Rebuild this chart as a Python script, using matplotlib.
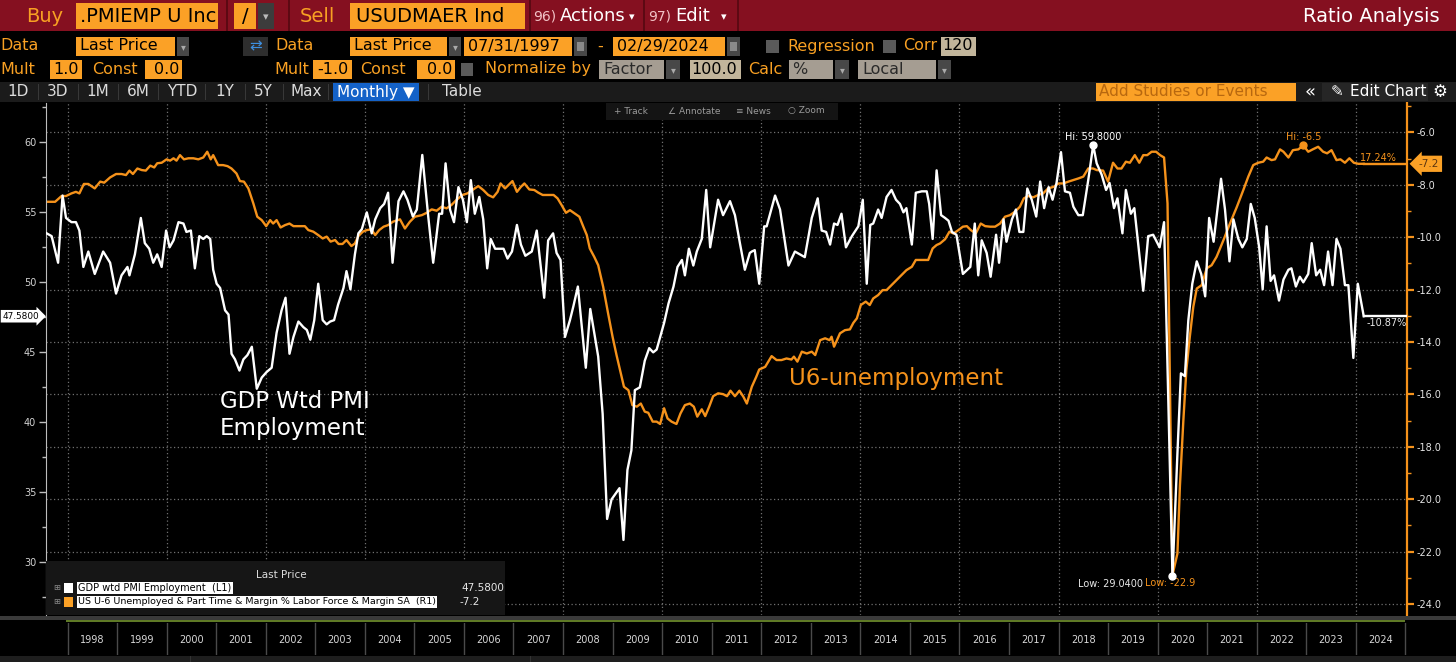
import matplotlib
matplotlib.use('Agg')
import matplotlib.pyplot as plt
from matplotlib.patches import Rectangle
from matplotlib.transforms import blended_transform_factory as blend

plt.rcParams['axes.unicode_minus'] = False
plt.rcParams['font.family'] = ['DejaVu Sans']

# ------------------------------------------------------------------ data
# GDP weighted PMI Employment (left axis)
pmi_dates = [1997.58, 1997.68, 1997.81, 1997.90, 1997.97, 1998.08, 1998.17, 1998.24, 1998.32, 1998.42,
             1998.55, 1998.72, 1998.86, 1998.98, 1999.09, 1999.21, 1999.25, 1999.36, 1999.48, 1999.56,
             1999.65, 1999.73, 1999.81, 1999.90, 1999.99, 2000.06, 2000.14, 2000.24, 2000.34, 2000.40,
             2000.49, 2000.57, 2000.66, 2000.74, 2000.81, 2000.88, 2000.94, 2001.01, 2001.08, 2001.18,
             2001.25, 2001.31, 2001.38, 2001.47, 2001.55, 2001.63, 2001.72, 2001.82, 2001.92, 2002.02,
             2002.12, 2002.22, 2002.32, 2002.40, 2002.48, 2002.56, 2002.66, 2002.76, 2002.83, 2002.90,
             2002.98, 2003.06, 2003.15, 2003.23, 2003.30, 2003.38, 2003.46, 2003.57, 2003.63, 2003.71,
             2003.80, 2003.87, 2003.94, 2004.04, 2004.14, 2004.21, 2004.31, 2004.39, 2004.47, 2004.56,
             2004.68, 2004.78, 2004.86, 2004.97, 2005.05, 2005.16, 2005.28, 2005.38, 2005.50, 2005.56,
             2005.63, 2005.72, 2005.80, 2005.89, 2005.98, 2006.06, 2006.14, 2006.22, 2006.31, 2006.39,
             2006.47, 2006.54, 2006.63, 2006.80, 2006.88, 2006.97, 2007.07, 2007.15, 2007.24, 2007.37,
             2007.47, 2007.62, 2007.70, 2007.80, 2007.87, 2007.95, 2008.04, 2008.14, 2008.21, 2008.30,
             2008.38, 2008.46, 2008.55, 2008.63, 2008.71, 2008.80, 2008.89, 2008.98, 2009.14, 2009.22,
             2009.30, 2009.38, 2009.45, 2009.55, 2009.65, 2009.74, 2009.82, 2009.89, 2009.96, 2010.04,
             2010.13, 2010.23, 2010.31, 2010.40, 2010.46, 2010.54, 2010.63, 2010.70, 2010.80, 2010.89,
             2010.97, 2011.13, 2011.23, 2011.37, 2011.47, 2011.57, 2011.67, 2011.77, 2011.81, 2011.87,
             2011.96, 2012.06, 2012.11, 2012.28, 2012.38, 2012.55, 2012.68, 2012.78, 2012.88, 2013.02,
             2013.14, 2013.22, 2013.31, 2013.39, 2013.47, 2013.54, 2013.62, 2013.71, 2013.83, 2013.96,
             2014.05, 2014.13, 2014.20, 2014.26, 2014.36, 2014.43, 2014.53, 2014.63, 2014.72, 2014.80,
             2014.87, 2014.93, 2015.04, 2015.12, 2015.24, 2015.34, 2015.39, 2015.46, 2015.54, 2015.63,
             2015.71, 2015.78, 2015.85, 2015.94, 2016.07, 2016.22, 2016.31, 2016.38, 2016.45, 2016.55,
             2016.63, 2016.74, 2016.80, 2016.89, 2016.95, 2017.06, 2017.14, 2017.21, 2017.29, 2017.37,
             2017.46, 2017.55, 2017.63, 2017.71, 2017.80, 2017.88, 2017.96, 2018.05, 2018.13, 2018.23,
             2018.30, 2018.40, 2018.49, 2018.60, 2018.70, 2018.77, 2018.87, 2018.96, 2019.03, 2019.12,
             2019.19, 2019.29, 2019.36, 2019.46, 2019.53, 2019.71, 2019.81, 2019.91, 2020.04, 2020.13,
             2020.30, 2020.40, 2020.47, 2020.55, 2020.62, 2020.70, 2020.79, 2020.88, 2020.96, 2021.04,
             2021.13, 2021.28, 2021.36, 2021.45, 2021.53, 2021.63, 2021.71, 2021.80, 2021.88, 2021.96,
             2022.05, 2022.12, 2022.20, 2022.28, 2022.35, 2022.45, 2022.54, 2022.64, 2022.70, 2022.79,
             2022.87, 2022.94, 2023.04, 2023.11, 2023.20, 2023.28, 2023.36, 2023.44, 2023.53, 2023.61,
             2023.69, 2023.78, 2023.85, 2023.95, 2024.04, 2024.16]
pmi_values = [53.5, 53.3, 51.4, 56.2, 54.6, 54.3, 54.3, 53.7, 51.1, 52.2,
              50.6, 52.2, 51.4, 49.2, 50.5, 51.1, 50.5, 52.0, 54.6, 52.8,
              52.4, 51.4, 52.0, 51.1, 53.7, 52.5, 53.0, 54.3, 54.2, 53.6,
              53.7, 51.0, 53.3, 53.1, 53.3, 53.1, 50.9, 49.9, 49.6, 48.0,
              47.7, 44.9, 44.5, 43.7, 44.5, 44.8, 45.4, 42.4, 43.2, 43.6,
              43.9, 46.4, 48.0, 48.9, 44.9, 46.1, 47.2, 46.8, 46.6, 45.9,
              47.3, 49.9, 47.3, 47.0, 47.2, 47.3, 48.4, 49.6, 50.8, 49.5,
              52.0, 53.5, 53.8, 55.0, 53.5, 54.5, 55.3, 55.6, 56.4, 51.4,
              55.8, 56.5, 55.9, 54.7, 55.2, 59.1, 54.7, 51.4, 54.9, 54.9,
              58.5, 55.2, 54.3, 56.8, 55.9, 54.3, 57.3, 54.9, 56.1, 54.5,
              51.0, 53.1, 52.4, 52.4, 51.7, 52.2, 54.1, 52.7, 51.9, 52.2,
              53.7, 48.9, 53.0, 53.5, 52.1, 51.6, 46.1, 47.3, 48.3, 49.7,
              46.8, 43.9, 48.1, 46.4, 44.7, 40.6, 33.1, 34.5, 35.3, 31.6,
              36.6, 38.0, 42.3, 42.5, 44.4, 45.3, 45.0, 45.2, 46.1, 47.1,
              48.5, 49.7, 51.1, 51.6, 50.5, 52.4, 51.2, 52.2, 53.1, 56.6,
              52.5, 55.9, 54.8, 55.8, 54.8, 52.8, 50.9, 52.1, 52.2, 52.3,
              49.9, 54.0, 54.0, 56.2, 55.2, 51.2, 52.2, 52.0, 51.8, 54.6,
              56.0, 53.7, 53.6, 52.7, 54.2, 54.1, 54.9, 52.5, 53.3, 54.0,
              55.9, 49.9, 54.1, 54.2, 55.2, 54.6, 56.1, 56.6, 55.9, 55.6,
              55.0, 55.3, 52.7, 56.4, 56.5, 56.5, 55.6, 53.1, 58.0, 54.8,
              54.6, 54.4, 53.6, 53.4, 50.6, 51.1, 54.2, 50.5, 53.0, 52.1,
              50.4, 53.4, 51.4, 54.5, 52.9, 54.5, 55.2, 53.6, 53.6, 56.7,
              55.9, 54.7, 57.2, 55.3, 56.8, 55.9, 57.1, 59.3, 56.5, 56.4,
              55.4, 54.8, 54.8, 57.3, 59.8, 58.5, 57.7, 56.6, 57.1, 55.3,
              56.0, 53.5, 56.6, 54.9, 55.3, 49.4, 53.3, 53.4, 52.5, 54.3,
              29.04, 37.8, 43.5, 43.3, 47.3, 49.9, 51.5, 50.6, 49.0, 54.6,
              52.9, 57.4, 55.2, 51.5, 54.5, 53.1, 52.5, 53.1, 55.6, 54.6,
              52.5, 49.5, 54.0, 50.1, 50.5, 48.7, 50.2, 50.9, 51.0, 49.7,
              50.4, 50.0, 50.6, 52.8, 50.5, 50.9, 49.8, 52.2, 49.8, 53.1,
              52.4, 49.8, 49.8, 44.6, 49.9, 47.58]

# US U-6 underemployment rate (%), plotted with Mult -1.0 on the right axis
u6_dates = [1997.58, 1997.75, 1997.88, 1997.97, 1998.08, 1998.17, 1998.24, 1998.33, 1998.42, 1998.55,
            1998.66, 1998.74, 1998.86, 1998.98, 1999.09, 1999.18, 1999.25, 1999.32, 1999.41, 1999.50,
            1999.58, 1999.67, 1999.75, 1999.81, 1999.90, 2000.00, 2000.07, 2000.14, 2000.20, 2000.27,
            2000.35, 2000.44, 2000.54, 2000.64, 2000.74, 2000.82, 2000.89, 2000.94, 2001.04, 2001.14,
            2001.23, 2001.31, 2001.41, 2001.48, 2001.56, 2001.65, 2001.75, 2001.83, 2001.92, 2002.01,
            2002.09, 2002.15, 2002.22, 2002.30, 2002.39, 2002.48, 2002.56, 2002.66, 2002.79, 2002.86,
            2002.96, 2003.06, 2003.15, 2003.23, 2003.31, 2003.40, 2003.47, 2003.55, 2003.63, 2003.73,
            2003.80, 2003.87, 2003.96, 2004.04, 2004.13, 2004.21, 2004.29, 2004.38, 2004.47, 2004.57,
            2004.71, 2004.81, 2004.91, 2005.01, 2005.15, 2005.25, 2005.35, 2005.45, 2005.55, 2005.65,
            2005.75, 2005.85, 2005.97, 2006.07, 2006.19, 2006.29, 2006.39, 2006.49, 2006.59, 2006.68,
            2006.74, 2006.83, 2006.90, 2006.98, 2007.07, 2007.15, 2007.22, 2007.32, 2007.42, 2007.50,
            2007.59, 2007.81, 2007.89, 2007.97, 2008.06, 2008.14, 2008.24, 2008.33, 2008.41, 2008.48,
            2008.54, 2008.63, 2008.71, 2008.81, 2008.91, 2009.00, 2009.08, 2009.16, 2009.23, 2009.32,
            2009.40, 2009.49, 2009.57, 2009.65, 2009.72, 2009.81, 2009.89, 2009.96, 2010.04, 2010.11,
            2010.19, 2010.29, 2010.37, 2010.46, 2010.56, 2010.64, 2010.71, 2010.80, 2010.87, 2010.95,
            2011.03, 2011.13, 2011.23, 2011.31, 2011.38, 2011.47, 2011.56, 2011.64, 2011.71, 2011.81,
            2011.90, 2011.96, 2012.08, 2012.21, 2012.31, 2012.41, 2012.51, 2012.61, 2012.66, 2012.73,
            2012.82, 2012.92, 2013.02, 2013.09, 2013.19, 2013.29, 2013.38, 2013.42, 2013.47, 2013.59,
            2013.69, 2013.79, 2013.86, 2013.93, 2014.01, 2014.11, 2014.19, 2014.26, 2014.36, 2014.45,
            2014.53, 2014.63, 2014.73, 2014.83, 2014.93, 2015.04, 2015.12, 2015.37, 2015.46, 2015.54,
            2015.61, 2015.71, 2015.80, 2015.88, 2015.98, 2016.07, 2016.15, 2016.23, 2016.33, 2016.43,
            2016.52, 2016.62, 2016.72, 2016.82, 2016.92, 2017.02, 2017.12, 2017.22, 2017.30, 2017.39,
            2017.49, 2017.59, 2017.69, 2017.79, 2017.90, 2018.00, 2018.10, 2018.20, 2018.30, 2018.40,
            2018.50, 2018.60, 2018.70, 2018.77, 2018.90, 2019.00, 2019.10, 2019.19, 2019.27, 2019.36,
            2019.44, 2019.54, 2019.63, 2019.71, 2019.79, 2019.88, 2019.97, 2020.05, 2020.13, 2020.20,
            2020.30, 2020.40, 2020.45, 2020.52, 2020.58, 2020.65, 2020.72, 2020.79, 2020.89, 2020.99,
            2021.09, 2021.19, 2021.33, 2021.46, 2021.60, 2021.73, 2021.83, 2021.93, 2022.03, 2022.13,
            2022.20, 2022.30, 2022.37, 2022.47, 2022.54, 2022.64, 2022.73, 2022.84, 2022.94, 2023.04,
            2023.13, 2023.24, 2023.34, 2023.42, 2023.51, 2023.61, 2023.69, 2023.78, 2023.87, 2023.96,
            2024.05, 2024.16]
u6_values = [8.65, 8.65, 8.43, 8.43, 8.33, 8.27, 8.33, 7.97, 7.97, 8.14,
             7.88, 7.92, 7.72, 7.59, 7.59, 7.63, 7.46, 7.59, 7.38, 7.44,
             7.46, 7.27, 7.34, 7.18, 7.16, 7.03, 7.08, 6.99, 7.08, 6.87,
             7.03, 6.99, 6.99, 7.03, 6.96, 6.74, 7.03, 6.87, 7.25, 7.25,
             7.29, 7.38, 7.57, 7.86, 7.88, 8.14, 8.71, 9.22, 9.35, 9.58,
             9.35, 9.48, 9.35, 9.63, 9.54, 9.48, 9.58, 9.58, 9.58, 9.73,
             9.79, 9.92, 10.05, 9.98, 10.17, 10.11, 10.26, 10.26, 10.11, 10.34,
             10.24, 9.96, 9.79, 9.73, 9.70, 9.92, 9.73, 9.60, 9.54, 9.41,
             9.32, 9.67, 9.41, 9.22, 9.16, 9.07, 8.94, 8.99, 8.84, 8.90,
             8.77, 8.58, 8.39, 8.33, 8.18, 8.05, 8.20, 8.39, 8.48, 8.27,
             7.95, 8.14, 8.01, 7.86, 8.27, 8.08, 7.95, 8.18, 8.20, 8.30,
             8.39, 8.39, 8.52, 8.77, 9.07, 8.97, 9.10, 9.22, 9.60, 9.92,
             10.43, 10.75, 11.07, 11.89, 12.91, 13.80, 14.50, 15.14, 15.71, 15.84,
             16.41, 16.47, 16.35, 16.66, 16.70, 17.04, 17.04, 17.13, 16.53, 16.92,
             17.04, 17.13, 16.73, 16.41, 16.35, 16.47, 16.85, 16.57, 16.83, 16.47,
             16.07, 15.96, 15.99, 16.07, 15.86, 16.07, 15.86, 16.09, 16.35, 15.71,
             15.33, 15.05, 14.95, 14.54, 14.69, 14.69, 14.63, 14.67, 14.56, 14.75,
             14.37, 14.44, 14.37, 14.50, 13.93, 13.86, 13.93, 13.80, 14.18, 13.67,
             13.55, 13.52, 13.27, 13.10, 12.59, 12.46, 12.59, 12.34, 12.21, 12.02,
             12.02, 11.83, 11.64, 11.45, 11.26, 11.13, 10.87, 10.87, 10.43, 10.30,
             10.24, 10.08, 9.79, 9.86, 9.73, 9.60, 9.58, 9.73, 9.86, 9.48,
             9.58, 9.60, 9.60, 9.48, 9.22, 9.16, 9.03, 8.84, 8.52, 8.43,
             8.48, 8.39, 8.33, 8.14, 8.08, 7.95, 7.95, 7.88, 7.82, 7.76,
             7.69, 7.38, 7.38, 7.44, 7.46, 7.88, 7.16, 7.38, 7.38, 7.12,
             7.16, 6.87, 7.16, 6.87, 6.87, 6.74, 6.74, 6.87, 6.96, 8.71,
             22.9, 22.07, 19.5, 16.98, 15.07, 13.80, 12.66, 11.96, 11.83, 11.19,
             11.07, 10.75, 10.11, 9.48, 8.84, 8.20, 7.69, 7.25, 7.16, 7.12,
             6.96, 7.06, 7.03, 6.65, 6.74, 6.96, 6.68, 6.65, 6.5, 6.74,
             6.65, 6.55, 6.74, 6.80, 6.68, 7.06, 7.03, 7.16, 6.99, 7.16,
             7.2, 7.2]
u6_mult = -1.0

pmi_hi = (2018.70, 59.8)
pmi_lo = (2020.30, 29.04)
u6_hi = (2022.94, -6.5)
u6_lo = (2020.30, -22.9)

left_ticks = [30, 35, 40, 45, 50, 55, 60]
left_minor = [27.5, 32.5, 37.5, 42.5, 47.5, 52.5, 57.5, 62.5]
right_ticks = [-6, -8, -10, -12, -14, -16, -18, -20, -22, -24]
right_minor = [-5, -7, -9, -11, -13, -15, -17, -19, -21, -23]
grid_years = [1998, 2000, 2002, 2004, 2006, 2008, 2010, 2012, 2014, 2016, 2018, 2020, 2022, 2024]
year_starts = [1998, 1999, 2000, 2001, 2002, 2003, 2004, 2005, 2006, 2007, 2008, 2009, 2010, 2011,
               2012, 2013, 2014, 2015, 2016, 2017, 2018, 2019, 2020, 2021, 2022, 2023, 2024, 2025]
year_labels = ['1998', '1999', '2000', '2001', '2002', '2003', '2004', '2005', '2006', '2007',
               '2008', '2009', '2010', '2011', '2012', '2013', '2014', '2015', '2016', '2017',
               '2018', '2019', '2020', '2021', '2022', '2023', '2024']

XMIN, XMAX = 1997.566, 2025.033
LMIN, LMAX = 26.24, 62.81
RMIN, RMAX = -24.42, -4.88

# ------------------------------------------------------------------ colours
RED = '#851020'
OR = '#fba126'
ORT = '#f8a023'
ORL = '#f5921b'
TAN = '#c2b59b'
TAN2 = '#a59d92'
DDG = '#484848'

W, H = 1456, 662
fig = plt.figure(figsize=(W / 100, H / 100), dpi=100, facecolor='black')


def R(x0, y0, x1, y1, c, z=1):
    fig.add_artist(Rectangle((x0 / W, 1 - y1 / H), (x1 - x0) / W, (y1 - y0) / H,
                             transform=fig.transFigure, facecolor=c, edgecolor='none', zorder=z))


def T(x, y, s, c, size, ha='left', va='center', z=6, **kw):
    fig.text(x / W, 1 - y / H, s, color=c, fontsize=size, ha=ha, va=va, zorder=z, **kw)


# ---------------- row 1 (title bar)
R(0, 0, W, 31, RED)
for sx in [226, 288, 529, 643, 737]:
    R(sx, 0, sx + 2, 31, '#5c0913')
T(26, 16, 'Buy', ORT, 14)
R(76, 3, 218, 29, OR)
T(80, 16, '.PMIEMP U Inc', 'black', 14)
R(234, 3, 256, 29, OR)
T(245, 16, '/', 'black', 14, ha='center')
R(258, 3, 274, 29, '#3c3c3c')
T(266, 17, '▾', '#bbbbbb', 8, ha='center')
T(300, 16, 'Sell', ORT, 14)
R(350, 3, 525, 29, OR)
T(356, 16, 'USUDMAER Ind', 'black', 14)
T(533, 16, '96)', '#f2c2c6', 10)
T(560, 16, 'Actions', 'white', 13)
T(632, 17, '▾', 'white', 8, ha='center')
T(648, 16, '97)', '#f2c2c6', 10)
T(675, 16, 'Edit', 'white', 13)
T(724, 17, '▾', 'white', 8, ha='center')
T(1440, 16, 'Ratio Analysis', 'white', 14, ha='right')

# ---------------- row 2
T(0, 46, 'Data', ORT, 11.5)
R(76, 37, 175, 56, OR)
T(80, 46, 'Last Price', 'black', 11.5)
R(177, 37, 189, 56, DDG)
T(183, 47, '▾', '#aaaaaa', 7, ha='center')
R(243, 37, 268, 56, '#2e2e2e')
T(255.5, 46, '⇄', '#3d8fe0', 11, ha='center')
T(275, 46, 'Data', ORT, 11.5)
R(350, 37, 447, 56, OR)
T(354, 46, 'Last Price', 'black', 11.5)
R(449, 37, 461, 56, DDG)
T(455, 47, '▾', '#aaaaaa', 7, ha='center')
R(464, 37, 572, 56, OR)
T(468, 46, '07/31/1997', 'black', 11.5)
R(574, 37, 587, 56, DDG)
R(577, 42, 584, 51, '#8a8a8a')
T(600, 46, '-', ORT, 11.5, ha='center')
R(613, 37, 725, 56, OR)
T(617, 46, '02/29/2024', 'black', 11.5)
R(727, 37, 740, 56, DDG)
R(730, 42, 737, 51, '#8a8a8a')
R(766, 40, 779, 53, '#5a5a5a')
T(787, 46, 'Regression', ORT, 11.5)
R(883, 40, 896, 53, '#5a5a5a')
T(903, 46, 'Corr', ORT, 11.5)
R(941, 37, 976, 56, TAN)
T(958, 46, '120', 'black', 11.5, ha='center')

# ---------------- row 3
T(0, 69, 'Mult', ORT, 11.5)
R(50, 60, 82, 79, OR)
T(79, 69, '1.0', 'black', 11.5, ha='right')
T(92, 69, 'Const', ORT, 11.5)
R(145, 60, 182, 79, OR)
T(179, 69, '0.0', 'black', 11.5, ha='right')
T(274, 69, 'Mult', ORT, 11.5)
R(313, 60, 352, 79, OR)
T(349, 69, '-1.0', 'black', 11.5, ha='right')
T(360, 69, 'Const', ORT, 11.5)
R(417, 60, 455, 79, OR)
T(452, 69, '0.0', 'black', 11.5, ha='right')
R(461, 63, 473, 76, '#5a5a5a')
T(485, 69, 'Normalize by', ORT, 11.5)
R(599, 60, 664, 79, TAN2)
T(603, 69, 'Factor', '#2a2a2a', 11.5)
R(666, 60, 680, 79, DDG)
T(673, 70, '▾', '#aaaaaa', 7, ha='center')
R(690, 60, 741, 79, TAN)
T(737, 69, '100.0', 'black', 11.5, ha='right')
T(748, 69, 'Calc', ORT, 11.5)
R(789, 60, 833, 79, TAN2)
T(792, 69, '%', '#2a2a2a', 11.5)
R(835, 60, 849, 79, DDG)
T(842, 70, '▾', '#aaaaaa', 7, ha='center')
R(858, 60, 936, 79, TAN2)
T(862, 69, 'Local', '#2a2a2a', 11.5)
R(938, 60, 951, 79, DDG)
T(944, 70, '▾', '#aaaaaa', 7, ha='center')

# ---------------- row 4 (toolbar)
R(0, 82, W, 102, '#1b1b1b')
for lab, cx in [('1D', 18), ('3D', 58), ('1M', 98), ('6M', 138), ('YTD', 182),
                ('1Y', 225), ('5Y', 263), ('Max', 306)]:
    T(cx, 92, lab, '#dcdcdc', 11, ha='center')
for sx in [38, 78, 118, 158, 205, 245, 283, 328, 428]:
    R(sx, 84, sx + 1, 100, '#383838')
R(333, 83, 419, 101, '#1462c8')
T(376, 92, 'Monthly ▼', 'white', 11, ha='center')
T(462, 92, 'Table', '#dcdcdc', 11, ha='center')
R(1096, 83, 1296, 101, OR)
T(1099, 92, 'Add Studies or Events', '#b8680f', 11)
T(1310, 92, '«', 'white', 13, ha='center')
R(1322, 83, 1428, 101, '#262626')
T(1337, 92, '✎', 'white', 11, ha='center')
T(1350, 92, 'Edit Chart', 'white', 11)
T(1440, 92, '⚙', 'white', 12, ha='center')

# ---------------- main axes
ax = fig.add_axes([46 / W, 1 - 615 / H, (1407 - 46) / W, (615 - 103) / H])
ax2 = ax.twinx()
ax.set_zorder(ax2.get_zorder() + 1)
ax.patch.set_visible(False)
ax2.patch.set_visible(True)
ax2.patch.set_facecolor('black')

GRIDC = '#707070'
for gy in grid_years:
    ax2.axvline(gy, color=GRIDC, lw=0.9, ls=(0, (1, 2)), zorder=0.5)
ax2.yaxis.grid(True, which='major', color=GRIDC, lw=0.9, ls=(0, (1, 2)), zorder=0.5)
ax2.set_axisbelow(True)

u6_plot = [v * u6_mult for v in u6_values]
ax2.plot(u6_dates, u6_plot, color=ORL, lw=1.7, zorder=2, solid_joinstyle='round')
ax2.plot([u6_dates[-1], XMAX], [u6_plot[-1], u6_plot[-1]], color=ORL, lw=1.7, zorder=2)
ax.plot(pmi_dates, pmi_values, color='white', lw=1.7, zorder=3, solid_joinstyle='round')
ax.plot([pmi_dates[-1], XMAX], [pmi_values[-1], pmi_values[-1]], color='white', lw=1.7, zorder=3)

ax.set_xlim(XMIN, XMAX)
ax2.set_xlim(XMIN, XMAX)
ax.set_ylim(LMIN, LMAX)
ax2.set_ylim(RMIN, RMAX)

ax.set_yticks(left_ticks)
ax.set_yticklabels([str(v) for v in left_ticks])
ax.set_yticks(left_minor, minor=True)
ax2.set_yticks(right_ticks)
ax2.set_yticklabels([f'{v:.1f}' for v in right_ticks])
ax2.set_yticks(right_minor, minor=True)

ax.tick_params(axis='x', which='both', bottom=False, labelbottom=False)
ax.tick_params(axis='y', which='major', direction='out', length=5, width=1,
               color='#bdbdbd', labelcolor='#d2d2d2', labelsize=7, pad=2)
ax.tick_params(axis='y', which='minor', direction='out', length=3, width=1, color='#bdbdbd')
ax2.tick_params(axis='y', which='major', direction='out', length=5, width=1.6,
                color=ORL, labelcolor='#e4e4e4', labelsize=7, pad=2)
ax2.tick_params(axis='y', which='minor', direction='out', length=3, width=1, color=ORL)

for s in ['top', 'bottom', 'right']:
    ax.spines[s].set_visible(False)
ax.spines['left'].set_color('#bdbdbd')
for s in ['top', 'bottom', 'left']:
    ax2.spines[s].set_visible(False)
ax2.spines['right'].set_color(ORL)
ax2.spines['right'].set_linewidth(1.6)

# hi / low markers & labels
ax.plot([pmi_hi[0]], [pmi_hi[1]], 'o', color='white', ms=5, zorder=4)
ax.plot([pmi_lo[0]], [pmi_lo[1]], 'o', color='white', ms=5, zorder=4)
ax2.plot([u6_hi[0]], [u6_hi[1]], 'o', color=ORL, ms=5, zorder=4)
ax.annotate(f'Hi: {pmi_hi[1]:.4f}', xy=pmi_hi, xytext=(0, 3), textcoords='offset pixels',
            ha='center', va='bottom', color='white', fontsize=7)
ax2.annotate(f'Hi: {u6_hi[1]:.1f}', xy=u6_hi, xytext=(0, 3), textcoords='offset pixels',
             ha='center', va='bottom', color=ORL, fontsize=7)
ax.annotate(f'Low: {pmi_lo[1]:.4f}', xy=pmi_lo, xytext=(-29, -8), textcoords='offset pixels',
            ha='right', va='center', color='#e8e8e8', fontsize=7)
ax2.annotate(f'Low: {u6_lo[1]:.1f}', xy=u6_lo, xytext=(-27, -8), textcoords='offset pixels',
             ha='left', va='center', color=ORL, fontsize=7)
ax2.annotate('17.24%', xy=(1, u6_plot[-1]), xycoords=('axes fraction', 'data'),
             xytext=(-10, 6), textcoords='offset pixels', ha='right', va='center',
             color=ORL, fontsize=7)
ax.annotate('-10.87%', xy=(1, pmi_values[-1]), xycoords=('axes fraction', 'data'),
            xytext=(0, -7), textcoords='offset pixels', ha='right', va='center',
            color='#e8e8e8', fontsize=7)

# last-value tags on the axes
ax.text(2.5 / W, pmi_values[-1], f'{pmi_values[-1]:.4f}', transform=blend(fig.transFigure, ax.transData),
        ha='left', va='center', color='black', fontsize=6.4, clip_on=False, zorder=10,
        bbox=dict(boxstyle='rarrow,pad=0.2', fc='white', ec='none'))
ax2.text(1.0085, u6_plot[-1], f'{u6_plot[-1]:.1f}', transform=blend(ax2.transAxes, ax2.transData),
         ha='left', va='center', color='#5b3510', fontsize=7.5, clip_on=False, zorder=10,
         bbox=dict(boxstyle='larrow,pad=0.3', fc=OR, ec='none'))

# big in-chart labels
ax.text(2001.08, 42.3, 'GDP Wtd PMI\nEmployment', color='white', fontsize=16.5,
        ha='left', va='top', linespacing=1.2, zorder=5)
ax2.text(2012.56, -15.65, 'U6-unemployment', color=ORL, fontsize=16.5,
         ha='left', va='baseline', zorder=5)

# mini toolbar inside chart
R(606, 103, 838, 120, '#141414', z=2)
T(614, 111, '+ Track', '#9a9a9a', 6.5, z=3)
T(668, 111, '∠ Annotate', '#9a9a9a', 6.5, z=3)
T(736, 111, '≡ News', '#9a9a9a', 6.5, z=3)
T(788, 111, '○ Zoom', '#9a9a9a', 6.5, z=3)

# legend box
R(46, 561, 505, 615, '#161616', z=2)
T(281, 575, 'Last Price', '#dddddd', 7.5, ha='center', z=3)
T(57, 588, '⊞', '#8a8a8a', 6, ha='center', z=3)
R(64, 583, 73, 593, 'white', z=3)
T(78, 588, 'GDP wtd PMI Employment  (L1)', 'black', 7, z=4,
  bbox=dict(boxstyle='square,pad=0.15', fc='white', ec='none'))
T(461, 588, f'{pmi_values[-1]:.4f}', '#e6e6e6', 7.5, z=3)
T(57, 602, '⊞', '#8a8a8a', 6, ha='center', z=3)
R(64, 597, 73, 607, OR, z=3)
T(78, 602, 'US U-6 Unemployed & Part Time & Margin % Labor Force & Margin SA  (R1)', 'black', 6.8, z=4,
  bbox=dict(boxstyle='square,pad=0.15', fc='white', ec='none'))
T(460, 602, f'{u6_plot[-1]:.1f}', '#e6e6e6', 7.5, z=3)

# navigator band
R(0, 616, W, 620, '#3a3a3a')
R(66, 620, 1405, 622, '#5f7a26')

# year band
axy = fig.add_axes([46 / W, 1 - 655 / H, (1407 - 46) / W, (655 - 623) / H])
axy.set_xlim(XMIN, XMAX)
axy.set_ylim(0, 1)
axy.axis('off')
for ys in year_starts:
    axy.axvline(ys, color='#4a4a4a', lw=1)
for ys, lab in zip(year_starts, year_labels):
    axy.text(ys + 0.5, 0.47, lab, ha='center', va='center', color='#d8d8d8', fontsize=7)

# bottom strip
R(0, 656, W, H, '#1e1e1e')
R(190, 656, 191, H, '#333333')
R(530, 656, 531, H, '#333333')

fig.savefig('out.png', dpi=100, facecolor='black')
